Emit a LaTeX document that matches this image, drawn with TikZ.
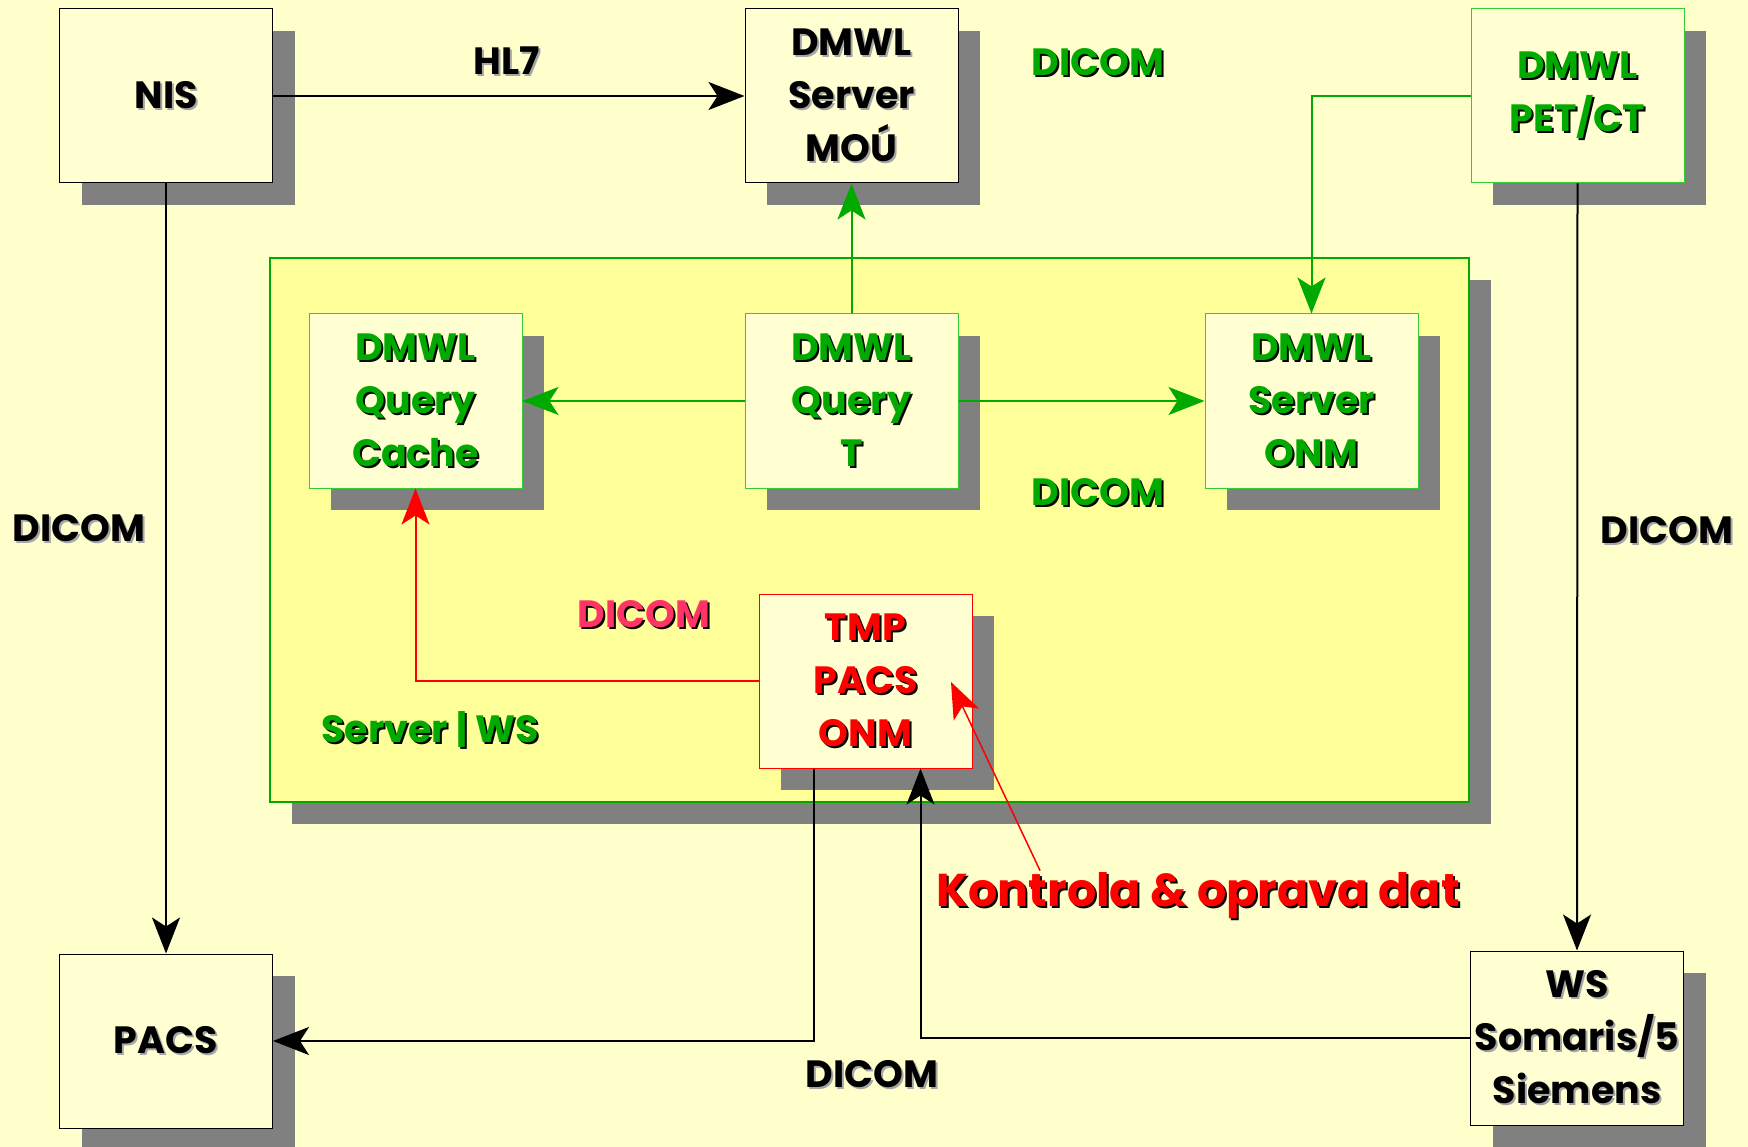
\documentclass[tikz,border=0pt]{standalone}
\usepackage{fontspec}
\setmainfont{Poppins}
\usetikzlibrary{arrows.meta,shadows}

\definecolor{bgyellow}{HTML}{FFFFCC}
\definecolor{zonefill}{HTML}{FFFF99}
\definecolor{boxfill}{HTML}{FFFFD2}
\definecolor{shadowgray}{HTML}{808080}
\definecolor{dgreen}{HTML}{00AA00}
\definecolor{lgreen}{HTML}{33CC33}
\definecolor{pinkred}{HTML}{FF3366}

% text with a small drop shadow
\newcommand{\sh}[2][black]{\leavevmode\rlap{\kern2pt\raisebox{-2pt}{\color{#1}#2}}#2}
\newcommand{\boxfont}{\fontsize{38}{53}\selectfont\bfseries}
\newcommand{\bigfont}{\fontsize{46}{56}\selectfont\bfseries}

\tikzset{
  station/.style={draw=black, line width=1pt, fill=boxfill, minimum width=213pt,
    minimum height=174pt, inner sep=0pt, align=center, font=\boxfont,
    drop shadow={shadow xshift=22pt, shadow yshift=-22pt, fill=shadowgray, opacity=1}},
  gbox/.style={station, draw=lgreen, text=dgreen},
  rbox/.style={station, draw=red, text=red},
  zone/.style={draw=dgreen, line width=2pt, fill=zonefill, minimum width=1199pt,
    minimum height=544pt, inner sep=0pt,
    drop shadow={shadow xshift=22pt, shadow yshift=-22pt, fill=shadowgray, opacity=1}},
  lbl/.style={font=\boxfont, inner sep=0pt},
  arr/.style={line width=2pt, -{Stealth[length=36pt, width=28pt, inset=9pt]}},
  blkarr/.style={arr, draw=black},
  grnarr/.style={arr, draw=dgreen},
  redarr/.style={arr, draw=red}
}

\begin{document}
\begin{tikzpicture}[x=1pt, y=-1pt]
  \fill[bgyellow] (0,0) rectangle (1748,1147);
  \useasboundingbox (0,0) rectangle (1748,1147);

  % inner zone
  \node[zone] (zone) at (869.5, 530) {};

  % stations
  \node[station] (nis) at (166, 96) {\sh[black!35]{NIS}};
  \node[station] (mou) at (851.5, 96) {\sh[black!35]{DMWL}\\\sh[black!35]{Server}\\\sh[black!35]{MOÚ}};
  \node[gbox] (pet) at (1577.5, 96) {\sh{DMWL}\\\sh{PET/CT}};
  \node[gbox] (cache) at (415.5, 401) {\sh{DMWL}\\\sh{Query}\\\sh{Cache}};
  \node[gbox] (qt) at (851.5, 401) {\sh{DMWL}\\\sh{Query}\\\sh{T}};
  \node[gbox] (onm) at (1311.5, 401) {\sh{DMWL}\\\sh{Server}\\\sh{ONM}};
  \node[rbox] (tmp) at (865.5, 681) {\sh{TMP}\\\sh{PACS}\\\sh{ONM}};
  \node[station] (pacs) at (166, 1041) {\sh[black!35]{PACS}};
  \node[station] (ws) at (1577, 1038) {\sh[black!35]{WS}\\\sh[black!35]{Somaris/5}\\\sh[black!35]{Siemens}};

  % connectors
  \draw[blkarr] (nis) -- (mou);
  \draw[blkarr] (nis.south) -- (pacs.north);
  \draw[blkarr] (pet.south) -- (ws.north);
  \draw[grnarr] (pet.west) -| (onm.north);
  \draw[grnarr] (qt.north) -- (mou.south);
  \draw[grnarr] (qt.west) -- (cache.east);
  \draw[grnarr] (qt.east) -- (onm.west);
  \draw[redarr] (tmp.west) -| (cache.south);
  \draw[blkarr] ([xshift=-51.5pt]tmp.south) |- (pacs.east);
  \draw[blkarr] (ws.west) -| ([xshift=55pt]tmp.south);

  % labels
  \node[lbl] (hl7) at (507, 62) {\sh[black!35]{HL7}};
  \node[lbl, text=dgreen] (dicomtop) at (1098, 63) {\sh{DICOM}};
  \node[lbl] (dicomleft) at (79, 529) {\sh[black!35]{DICOM}};
  \node[lbl] (dicomright) at (1667, 531) {\sh[black!35]{DICOM}};
  \node[lbl, text=dgreen] (dicomzone) at (1098, 493) {\sh{DICOM}};
  \node[lbl, text=pinkred] (dicomtmp) at (644, 615) {\sh{DICOM}};
  \node[lbl, text=dgreen] (srvws) at (430, 730) {\sh{Server | WS}};
  \node[lbl] (dicombottom) at (872, 1075) {\sh[black!35]{DICOM}};
  \node[lbl, font=\bigfont, text=red] (kontrola) at (1198, 897) {\sh{Kontrola \& oprava dat}};

  \coordinate (fix) at (951, 682);
  \draw[redarr, line width=1.5pt] ([xshift=104pt, yshift=2pt]kontrola.north west) -- (fix);
\end{tikzpicture}
\end{document}
